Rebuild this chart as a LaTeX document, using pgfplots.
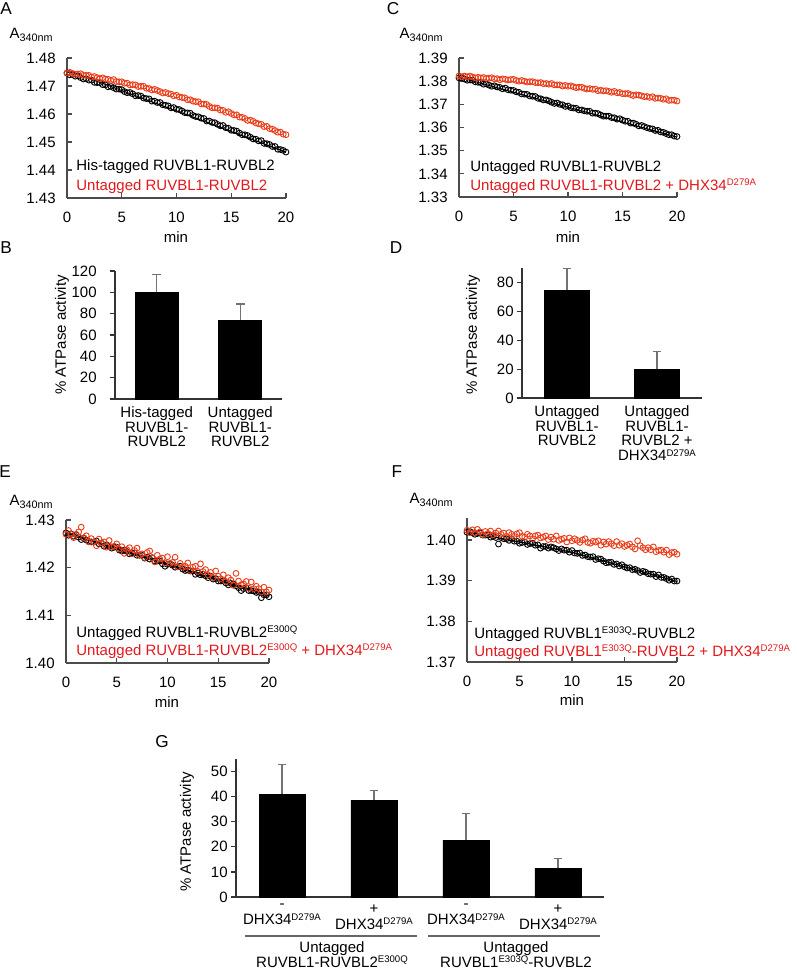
\documentclass[border=0pt]{standalone}
\usepackage{fontspec}
\setmainfont{Liberation Sans}
\usepackage{pgfplots}
\usepackage{pgfplotstable}
\pgfplotsset{compat=1.18}

\newcommand\myfont{\fontsize{7.5}{7.4}\selectfont}
\newcommand\letfont{\fontsize{8.6}{9}\selectfont}
\newcommand\sups[1]{\smash{\raisebox{2.1pt}{\fontsize{4.8}{5}\selectfont #1}}}
\newcommand\subs[1]{\raisebox{-1.6pt}{\fontsize{5.4}{5}\selectfont #1}}
\definecolor{txtred}{RGB}{226,24,28}
\definecolor{ptred}{RGB}{234,60,24}

% panel A: time, His-tagged (black), untagged (red)
\pgfplotstableread{
t k r
0.00 1.4746 1.4747
0.25 1.4740 1.4749
0.50 1.4741 1.4745
0.75 1.4735 1.4742
1.00 1.4736 1.4743
1.25 1.4730 1.4744
1.50 1.4725 1.4738
1.75 1.4726 1.4738
2.00 1.4721 1.4738
2.25 1.4721 1.4732
2.50 1.4713 1.4734
2.75 1.4712 1.4730
3.00 1.4712 1.4726
3.25 1.4705 1.4729
3.50 1.4704 1.4725
3.75 1.4697 1.4724
4.00 1.4699 1.4720
4.25 1.4694 1.4723
4.50 1.4689 1.4716
4.75 1.4689 1.4715
5.00 1.4687 1.4715
5.25 1.4680 1.4710
5.50 1.4676 1.4710
5.75 1.4677 1.4704
6.00 1.4672 1.4705
6.25 1.4665 1.4704
6.50 1.4666 1.4698
6.75 1.4664 1.4699
7.00 1.4657 1.4699
7.25 1.4655 1.4692
7.50 1.4654 1.4691
7.75 1.4646 1.4686
8.00 1.4646 1.4688
8.25 1.4641 1.4684
8.50 1.4641 1.4680
8.75 1.4633 1.4675
9.00 1.4631 1.4677
9.25 1.4629 1.4673
9.50 1.4622 1.4671
9.75 1.4623 1.4665
10.00 1.4617 1.4667
10.25 1.4616 1.4661
10.50 1.4611 1.4659
10.75 1.4605 1.4658
11.00 1.4604 1.4651
11.25 1.4603 1.4651
11.50 1.4595 1.4646
11.75 1.4591 1.4644
12.00 1.4590 1.4644
12.25 1.4585 1.4636
12.50 1.4584 1.4636
12.75 1.4575 1.4634
13.00 1.4575 1.4627
13.25 1.4570 1.4622
13.50 1.4569 1.4622
13.75 1.4563 1.4621
14.00 1.4558 1.4614
14.25 1.4559 1.4613
14.50 1.4551 1.4606
14.75 1.4549 1.4608
15.00 1.4542 1.4602
15.25 1.4541 1.4597
15.50 1.4539 1.4597
15.75 1.4532 1.4589
16.00 1.4526 1.4588
16.25 1.4526 1.4584
16.50 1.4523 1.4577
16.75 1.4517 1.4578
17.00 1.4511 1.4574
17.25 1.4510 1.4568
17.50 1.4504 1.4565
17.75 1.4505 1.4563
18.00 1.4495 1.4555
18.25 1.4494 1.4556
18.50 1.4491 1.4548
18.75 1.4484 1.4546
19.00 1.4484 1.4541
19.25 1.4474 1.4535
19.50 1.4473 1.4535
19.75 1.4470 1.4528
20.00 1.4464 1.4526
}\dataA

% panel C
\pgfplotstableread{
t k r
0.00 1.3814 1.3823
0.25 1.3814 1.3819
0.50 1.3809 1.3822
0.75 1.3804 1.3819
1.00 1.3805 1.3822
1.25 1.3804 1.3818
1.50 1.3797 1.3814
1.75 1.3795 1.3817
2.00 1.3794 1.3814
2.25 1.3787 1.3816
2.50 1.3788 1.3812
2.75 1.3783 1.3813
3.00 1.3778 1.3815
3.25 1.3780 1.3810
3.50 1.3775 1.3811
3.75 1.3773 1.3806
4.00 1.3767 1.3810
4.25 1.3770 1.3808
4.50 1.3763 1.3805
4.75 1.3761 1.3807
5.00 1.3760 1.3808
5.25 1.3754 1.3803
5.50 1.3752 1.3800
5.75 1.3745 1.3803
6.00 1.3744 1.3800
6.25 1.3743 1.3796
6.50 1.3736 1.3798
6.75 1.3735 1.3798
7.00 1.3734 1.3794
7.25 1.3726 1.3793
7.50 1.3724 1.3794
7.75 1.3719 1.3789
8.00 1.3719 1.3790
8.25 1.3715 1.3787
8.50 1.3709 1.3790
8.75 1.3704 1.3784
9.00 1.3706 1.3784
9.25 1.3700 1.3784
9.50 1.3698 1.3779
9.75 1.3691 1.3782
10.00 1.3693 1.3778
10.25 1.3686 1.3780
10.50 1.3684 1.3776
10.75 1.3683 1.3772
11.00 1.3676 1.3774
11.25 1.3676 1.3774
11.50 1.3672 1.3769
11.75 1.3670 1.3766
12.00 1.3670 1.3768
12.25 1.3662 1.3765
12.50 1.3662 1.3766
12.75 1.3660 1.3759
13.00 1.3654 1.3761
13.25 1.3649 1.3758
13.50 1.3649 1.3759
13.75 1.3649 1.3756
14.00 1.3643 1.3752
14.25 1.3642 1.3756
14.50 1.3636 1.3750
14.75 1.3638 1.3751
15.00 1.3632 1.3746
15.25 1.3627 1.3746
15.50 1.3627 1.3747
15.75 1.3619 1.3742
16.00 1.3619 1.3738
16.25 1.3614 1.3741
16.50 1.3607 1.3740
16.75 1.3609 1.3737
17.00 1.3604 1.3733
17.25 1.3599 1.3734
17.50 1.3596 1.3730
17.75 1.3594 1.3733
18.00 1.3587 1.3726
18.25 1.3588 1.3727
18.50 1.3581 1.3726
18.75 1.3579 1.3722
19.00 1.3574 1.3724
19.25 1.3569 1.3717
19.50 1.3569 1.3718
19.75 1.3563 1.3718
20.00 1.3561 1.3714
}\dataC

% panel E
\pgfplotstableread{
t k r
0.00 1.4273 1.4270
0.25 1.4268 1.4278
0.50 1.4271 1.4270
0.75 1.4266 1.4263
1.00 1.4269 1.4270
1.25 1.4264 1.4275
1.50 1.4259 1.4285
1.75 1.4262 1.4263
2.00 1.4258 1.4267
2.25 1.4255 1.4254
2.50 1.4254 1.4261
2.75 1.4254 1.4254
3.00 1.4256 1.4246
3.25 1.4250 1.4260
3.50 1.4251 1.4252
3.75 1.4245 1.4254
4.00 1.4248 1.4243
4.25 1.4245 1.4257
4.50 1.4241 1.4243
4.75 1.4243 1.4245
5.00 1.4243 1.4250
5.25 1.4237 1.4239
5.50 1.4235 1.4244
5.75 1.4237 1.4230
6.00 1.4234 1.4238
6.25 1.4229 1.4242
6.50 1.4231 1.4229
6.75 1.4231 1.4236
7.00 1.4226 1.4241
7.25 1.4226 1.4227
7.50 1.4226 1.4229
7.75 1.4220 1.4221
8.00 1.4222 1.4232
8.25 1.4218 1.4235
8.50 1.4221 1.4220
8.75 1.4214 1.4212
9.00 1.4214 1.4226
9.25 1.4214 1.4218
9.50 1.4208 1.4220
9.75 1.4203 1.4210
10.00 1.4207 1.4223
10.25 1.4208 1.4209
10.50 1.4205 1.4211
10.75 1.4201 1.4222
11.00 1.4202 1.4202
11.25 1.4203 1.4209
11.50 1.4197 1.4201
11.75 1.4194 1.4203
12.00 1.4195 1.4210
12.25 1.4193 1.4194
12.50 1.4193 1.4201
12.75 1.4186 1.4203
13.00 1.4189 1.4192
13.25 1.4185 1.4208
13.50 1.4186 1.4192
13.75 1.4183 1.4196
14.00 1.4179 1.4185
14.25 1.4182 1.4190
14.50 1.4176 1.4179
14.75 1.4177 1.4193
15.00 1.4172 1.4182
15.25 1.4172 1.4177
15.50 1.4173 1.4185
15.75 1.4168 1.4171
16.00 1.4164 1.4179
16.25 1.4167 1.4174
16.50 1.4166 1.4163
16.75 1.4162 1.4188
17.00 1.4158 1.4172
17.25 1.4152 1.4164
17.50 1.4156 1.4166
17.75 1.4158 1.4171
18.00 1.4152 1.4157
18.25 1.4152 1.4170
18.50 1.4151 1.4156
18.75 1.4148 1.4161
19.00 1.4149 1.4156
19.25 1.4137 1.4149
19.50 1.4143 1.4159
19.75 1.4143 1.4149
20.00 1.4139 1.4153
}\dataE

% panel F
\pgfplotstableread{
t k r
0.00 1.4019 1.4024
0.25 1.4021 1.4018
0.50 1.4018 1.4025
0.75 1.4014 1.4018
1.00 1.4016 1.4026
1.25 1.4017 1.4020
1.50 1.4012 1.4013
1.75 1.4012 1.4021
2.00 1.4012 1.4016
2.25 1.4007 1.4022
2.50 1.4009 1.4013
2.75 1.4006 1.4017
3.00 1.3990 1.4022
3.25 1.4006 1.4014
3.50 1.4003 1.4017
3.75 1.4003 1.4009
4.00 1.3999 1.4018
4.25 1.4003 1.4014
4.50 1.3997 1.4009
4.75 1.3997 1.4015
5.00 1.3992 1.4018
5.25 1.3994 1.4009
5.50 1.3995 1.4007
5.75 1.3989 1.4014
6.00 1.3991 1.4010
6.25 1.3992 1.4003
6.50 1.3987 1.4010
6.75 1.3988 1.4012
7.00 1.3980 1.4005
7.25 1.3984 1.4007
7.50 1.3984 1.4010
7.75 1.3980 1.4001
8.00 1.3983 1.4007
8.25 1.3981 1.4002
8.50 1.3978 1.4010
8.75 1.3974 1.3999
9.00 1.3978 1.4002
9.25 1.3975 1.4004
9.50 1.3975 1.3995
9.75 1.3970 1.4005
10.00 1.3974 1.3998
10.25 1.3968 1.4003
10.50 1.3967 1.3999
10.75 1.3968 1.3994
11.00 1.3962 1.4000
11.25 1.3963 1.4003
11.50 1.3959 1.3994
11.75 1.3958 1.3992
12.00 1.3959 1.3997
12.25 1.3952 1.3995
12.50 1.3954 1.3998
12.75 1.3953 1.3987
13.00 1.3948 1.3995
13.25 1.3944 1.3990
13.50 1.3945 1.3996
13.75 1.3945 1.3991
14.00 1.3940 1.3986
14.25 1.3941 1.3996
14.50 1.3936 1.3987
14.75 1.3939 1.3991
15.00 1.3934 1.3984
15.25 1.3931 1.3987
15.50 1.3932 1.3990
15.75 1.3927 1.3983
16.00 1.3928 1.3978
16.25 1.3925 1.3998
16.50 1.3920 1.3986
16.75 1.3923 1.3981
17.00 1.3921 1.3976
17.25 1.3917 1.3981
17.50 1.3916 1.3976
17.75 1.3916 1.3983
18.00 1.3910 1.3971
18.25 1.3914 1.3974
18.50 1.3908 1.3975
18.75 1.3908 1.3970
19.00 1.3905 1.3975
19.25 1.3901 1.3964
19.50 1.3904 1.3969
19.75 1.3899 1.3970
20.00 1.3899 1.3965
}\dataF

\pgfplotsset{
  linechart/.style={
    scale only axis, clip=false,
    axis lines=left,
    axis line style={-, black!70, line width=0.6pt},
    tick style={black!70, line width=0.6pt},
    major tick length=2.5pt, tick align=inside,
    xmin=0, xmax=20, xtick={0,5,10,15,20},
    tick label style={font=\myfont},
    /pgf/number format/assume math mode=true,
    yticklabel style={xshift=-5.5pt, /pgf/number format/fixed,
      /pgf/number format/fixed zerofill, /pgf/number format/precision=2},
    xticklabel style={yshift=-7pt},
  },
  blk/.style={only marks, mark=o, mark size=1.45pt, black,
    mark options={line width=0.45pt}},
  rd/.style={only marks, mark=o, mark size=1.45pt, ptred,
    mark options={line width=0.45pt}},
  barchart/.style={
    scale only axis,
    axis lines=left,
    axis line style={-, black!80, line width=0.6pt},
    ytick style={black!80, line width=0.6pt},
    xtick style={draw=none},
    major tick length=2.5pt, tick align=outside,
    ymin=0, xtick=data,
    tick label style={font=\myfont},
    /pgf/number format/assume math mode=true,
    xticklabel style={align=center, font=\myfont, yshift=-1pt},
    ybar, bar width=22pt,
  },
  bars/.style={fill=black, draw=black,
    error bars/.cd, y dir=plus, y explicit,
    error bar style={black!55, line width=0.6pt},
    error mark options={rotate=90, black!55, mark size=2.2pt, line width=0.6pt}},
}

\begin{document}
\myfont
\begin{tikzpicture}[x=0.5pt, y=-0.5pt, every node/.style={font=\myfont, inner sep=0pt}]
\path[use as bounding box] (0,0) rectangle (797,970);

% ---------- A ----------
\begin{axis}[linechart, at={(33.5pt,-99pt)}, anchor=south west,
  width=109.5pt, height=70pt, ymin=1.43, ymax=1.48,
  ytick={1.43,1.44,...,1.48}]
\addplot[blk] table[x=t, y=k] {\dataA};
\addplot[rd] table[x=t, y=r] {\dataA};
\addplot[black, line width=0.5pt] coordinates {(0,1.4757) (20,1.4464)};
\end{axis}

% ---------- C ----------
\begin{axis}[linechart, at={(229.5pt,-98.5pt)}, anchor=south west,
  width=109pt, height=69.5pt, ymin=1.33, ymax=1.39,
  ytick={1.33,1.34,...,1.39}]
\addplot[blk] table[x=t, y=k] {\dataC};
\addplot[rd] table[x=t, y=r] {\dataC};
\addplot[black, line width=0.5pt] coordinates {(0,1.3817) (20,1.3559)};
\end{axis}

% ---------- E ----------
\begin{axis}[linechart, at={(33pt,-331.5pt)}, anchor=south west,
  width=101.5pt, height=71.5pt, ymin=1.40, ymax=1.43,
  ytick={1.40,1.41,1.42,1.43}]
\addplot[blk] table[x=t, y=k] {\dataE};
\addplot[rd] table[x=t, y=r] {\dataE};
\addplot[black, line width=1pt] coordinates {(0,1.4273) (20,1.4141)};
\end{axis}

% ---------- F ----------
\begin{axis}[linechart, at={(233.5pt,-331pt)}, anchor=south west,
  width=105pt, height=72pt, ymin=1.37, ymax=1.4054,
  ytick={1.37,1.38,1.39,1.40}]
\addplot[blk] table[x=t, y=k] {\dataF};
\addplot[rd] table[x=t, y=r] {\dataF};
\addplot[black, line width=0.6pt] coordinates {(0,1.4020) (10,1.3970) (20,1.3898)};
\end{axis}

% ---------- B ----------
\begin{axis}[barchart, at={(57.5pt,-199.5pt)}, anchor=south west,
  width=83.5pt, height=64pt, ymax=120, ytick={0,20,...,120},
  xmin=0.5, xmax=2.5, bar width=21.5pt,
  yticklabel style={xshift=-6.5pt},
  xticklabels={{His-tagged\\RUVBL1-\\RUVBL2},{Untagged\\RUVBL1-\\RUVBL2}}]
\addplot[bars] coordinates {(1,100) +- (0,17) (2,74) +- (0,15)};
\end{axis}

% ---------- D ----------
\begin{axis}[barchart, at={(261pt,-199pt)}, anchor=south west,
  width=90pt, height=65pt, ymax=90, ytick={0,20,...,80},
  xmin=0.5, xmax=2.5, bar width=22.5pt,
  yticklabel style={xshift=-1.5pt},
  xticklabels={{Untagged\\RUVBL1-\\RUVBL2},{Untagged\\RUVBL1-\\RUVBL2 +\\DHX34\sups{D279A}}}]
\addplot[bars] coordinates {(1,74.5) +- (0,15) (2,20) +- (0,12)};
\end{axis}

% ---------- G ----------
\begin{axis}[barchart, at={(118pt,-448.5pt)}, anchor=south west,
  width=184pt, height=69pt, ymax=55, ytick={0,10,...,50},
  xmin=0.5, xmax=4.5, bar width=23pt,
  yticklabel style={xshift=-1.5pt},
  xticklabels={{-\\[0.6pt]DHX34\sups{D279A}},{+\\[0.6pt]DHX34\sups{D279A}},
               {-\\[0.6pt]DHX34\sups{D279A}},{+\\[0.6pt]DHX34\sups{D279A}}}]
\addplot[bars] coordinates {(1,40.9) +- (0,11.9) (2,38.5) +- (0,3.9)
                            (3,22.6) +- (0,10.7) (4,11.5) +- (0,4.0)};
\end{axis}

% panel letters
\node[font=\letfont] at (6,9) {A};
\node[font=\letfont] at (393,9) {C};
\node[font=\letfont] at (6,248) {B};
\node[font=\letfont] at (396,248) {D};
\node[font=\letfont] at (5,472) {E};
\node[font=\letfont] at (397,472) {F};
\node[font=\letfont] at (162,742) {G};

% y labels of the kinetics panels
\node[anchor=base east] at (53,38) {A\subs{340nm}};
\node[anchor=base east] at (443,38) {A\subs{340nm}};
\node[anchor=base east] at (53,505) {A\subs{340nm}};
\node[anchor=base east] at (453,503) {A\subs{340nm}};

% x labels
\node[anchor=base] at (176,242) {min};
\node[anchor=base] at (568,242) {min};
\node[anchor=base] at (167,707) {min};
\node[anchor=base] at (572,705) {min};

% legends
\node[anchor=base west] at (76,170) {His-tagged RUVBL1-RUVBL2};
\node[anchor=base west, text=txtred] at (76,190) {Untagged RUVBL1-RUVBL2};
\node[anchor=base west] at (470,171) {Untagged RUVBL1-RUVBL2};
\node[anchor=base west, text=txtred] at (470,190) {Untagged RUVBL1-RUVBL2 + DHX34\sups{D279A}};
\node[anchor=base west] at (76,637) {Untagged RUVBL1-RUVBL2\sups{E300Q}};
\node[anchor=base west, text=txtred] at (76,655) {Untagged RUVBL1-RUVBL2\sups{E300Q} + DHX34\sups{D279A}};
\node[anchor=base west] at (474,638) {Untagged RUVBL1\sups{E303Q}-RUVBL2};
\node[anchor=base west, text=txtred] at (474,656) {Untagged RUVBL1\sups{E303Q}-RUVBL2 + DHX34\sups{D279A}};

% bar chart y labels
\node[rotate=90] at (62,335) {\% ATPase activity};
\node[rotate=90] at (473,335) {\% ATPase activity};
\node[rotate=90] at (187,832) {\% ATPase activity};

% groups in G
\draw[black!60, line width=0.6pt] (245,936) -- (417,936);
\draw[black!60, line width=0.6pt] (428,936) -- (600,936);
\node[align=center, anchor=north] at (332,941) {Untagged\\RUVBL1-RUVBL2\sups{E300Q}};
\node[align=center, anchor=north] at (516,941) {Untagged\\RUVBL1\sups{E303Q}-RUVBL2};
\end{tikzpicture}
\end{document}
